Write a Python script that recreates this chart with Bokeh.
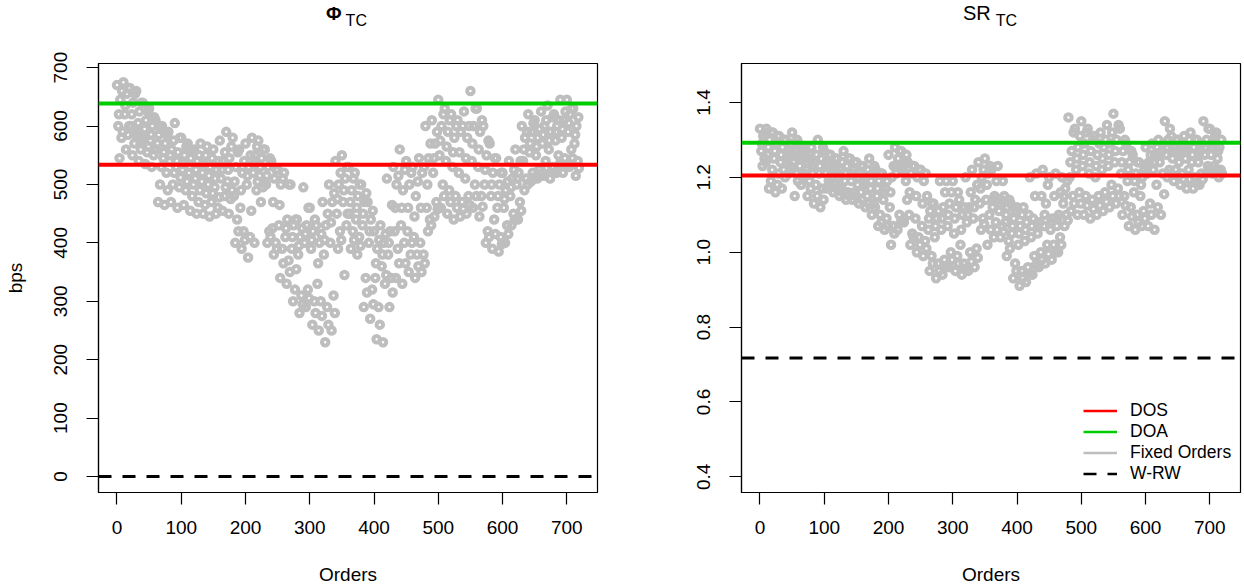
from bokeh.plotting import figure
from bokeh.layouts import row, column
from bokeh.models import Span, Legend, LegendItem, FixedTicker, Range1d, ColumnDataSource, Div
from bokeh.embed import file_html
from bokeh.resources import INLINE

# ---------------- data ----------------
orders = list(range(0, 720, 10))

phi_1 = [670, 675, 665, 660, 640, 630, 610, 600, 590, 605,
         580, 570, 560, 570, 565, 560, 575, 590, 580, 560,
         570, 580, 575, 560, 540, 525, 520, 500, 440, 495,
         460, 430, 470, 500, 540, 550, 530, 520, 500, 470,
         420, 430, 510, 530, 560, 540, 530, 545, 600, 610,
         645, 630, 620, 610, 625, 660, 630, 600, 570, 545,
         520, 540, 560, 600, 620, 610, 625, 635, 620, 645,
         645, 630]
phi_2 = [645, 655, 640, 625, 610, 600, 585, 570, 560, 555,
         550, 545, 540, 535, 530, 525, 540, 545, 530, 520,
         530, 550, 545, 530, 510, 500, 440, 430, 410, 430,
         420, 400, 430, 470, 500, 510, 490, 480, 470, 440,
         390, 400, 420, 500, 490, 500, 480, 520, 545, 570,
         600, 590, 580, 590, 580, 600, 590, 550, 520, 500,
         490, 510, 520, 580, 590, 580, 600, 590, 600, 610,
         620, 600]
phi_3 = [600, 620, 600, 590, 580, 575, 560, 545, 540, 530,
         525, 520, 510, 505, 500, 495, 510, 505, 480, 460,
         500, 520, 515, 500, 425, 430, 410, 390, 380, 400,
         390, 330, 380, 400, 450, 470, 450, 440, 430, 400,
         340, 360, 380, 420, 430, 420, 410, 400, 460, 520,
         550, 540, 530, 520, 510, 540, 530, 500, 480, 460,
         460, 480, 500, 540, 555, 550, 570, 560, 575, 580,
         590, 570]
phi_4 = [580, 585, 570, 560, 555, 550, 500, 520, 500, 495,
         490, 480, 470, 465, 470, 460, 480, 475, 440, 420,
         410, 490, 495, 420, 400, 390, 370, 320, 310, 320,
         300, 300, 290, 310, 420, 430, 420, 410, 340, 320,
         290, 330, 340, 390, 400, 380, 380, 380, 440, 470,
         500, 490, 480, 470, 480, 500, 480, 420, 440, 410,
         430, 450, 470, 510, 520, 525, 540, 530, 550, 545,
         560, 540]
phi_5 = [545, 560, 550, 540, 535, 530, 470, 465, 470, 460,
         465, 455, 450, 450, 445, 450, 455, 450, 400, 390,
         375, 400, 470, 400, 380, 340, 330, 300, 280, 290,
         260, 250, 230, 250, 390, 345, 390, 380, 290, 270,
         235, 230, 290, 340, 330, 350, 340, 350, 420, 445,
         460, 450, 440, 445, 450, 460, 445, 400, 390, 385,
         400, 430, 440, 490, 505, 510, 515, 510, 520, 520,
         530, 515]
phi_6 = [660, 665, 655, 640, 625, 615, 595, 585, 575, 580,
         565, 555, 550, 550, 545, 540, 555, 565, 555, 540,
         550, 565, 560, 545, 525, 510, 500, 440, 425, 460,
         440, 415, 450, 485, 520, 530, 510, 500, 485, 455,
         405, 415, 465, 515, 525, 520, 505, 530, 570, 590,
         620, 610, 600, 600, 600, 630, 610, 575, 545, 520,
         505, 525, 540, 590, 605, 595, 610, 615, 610, 625,
         630, 615]
phi_7 = [620, 635, 620, 605, 595, 585, 570, 555, 550, 540,
         535, 530, 525, 520, 515, 510, 525, 525, 505, 490,
         515, 535, 530, 515, 470, 465, 425, 410, 395, 415,
         405, 365, 405, 435, 475, 490, 470, 460, 450, 420,
         365, 380, 400, 460, 460, 460, 445, 460, 500, 545,
         575, 565, 555, 555, 545, 570, 560, 525, 500, 480,
         475, 495, 510, 560, 570, 565, 585, 575, 590, 595,
         605, 585]
phi_8 = [590, 600, 585, 575, 565, 560, 530, 490, 520, 512,
         505, 500, 490, 485, 485, 478, 495, 490, 420, 405,
         455, 505, 505, 410, 390, 365, 350, 355, 295, 305,
         280, 275, 260, 280, 405, 450, 405, 395, 315, 295,
         260, 345, 315, 365, 365, 400, 360, 365, 430, 458,
         480, 470, 460, 458, 465, 480, 462, 410, 415, 398,
         415, 440, 455, 500, 512, 518, 528, 520, 535, 532,
         545, 528]

sr_1 = [1.33, 1.33, 1.32, 1.31, 1.30, 1.32, 1.29, 1.27, 1.28, 1.30,
        1.27, 1.26, 1.25, 1.27, 1.25, 1.24, 1.23, 1.25, 1.22, 1.21,
        1.26, 1.28, 1.27, 1.24, 1.23, 1.22, 1.15, 1.13, 1.19, 1.19,
        1.19, 1.14, 1.20, 1.22, 1.24, 1.25, 1.22, 1.23, 1.15, 1.13,
        1.12, 1.12, 1.20, 1.21, 1.22, 1.20, 1.21, 1.20, 1.36, 1.33,
        1.35, 1.33, 1.31, 1.32, 1.34, 1.37, 1.33, 1.29, 1.26, 1.24,
        1.28, 1.29, 1.30, 1.35, 1.31, 1.30, 1.31, 1.32, 1.30, 1.35,
        1.33, 1.32]
sr_2 = [1.31, 1.30, 1.29, 1.28, 1.27, 1.27, 1.26, 1.25, 1.24, 1.25,
        1.24, 1.23, 1.22, 1.23, 1.22, 1.21, 1.20, 1.21, 1.19, 1.17,
        1.20, 1.25, 1.24, 1.21, 1.20, 1.19, 1.11, 1.09, 1.12, 1.13,
        1.12, 1.10, 1.12, 1.14, 1.20, 1.21, 1.15, 1.14, 1.12, 1.09,
        1.07, 1.08, 1.09, 1.08, 1.13, 1.09, 1.10, 1.17, 1.27, 1.28,
        1.29, 1.27, 1.26, 1.28, 1.29, 1.30, 1.27, 1.24, 1.21, 1.20,
        1.24, 1.26, 1.27, 1.30, 1.28, 1.27, 1.28, 1.28, 1.27, 1.30,
        1.29, 1.28]
sr_3 = [1.27, 1.26, 1.25, 1.24, 1.25, 1.24, 1.23, 1.22, 1.21, 1.21,
        1.21, 1.20, 1.20, 1.19, 1.19, 1.18, 1.18, 1.17, 1.15, 1.14,
        1.12, 1.21, 1.22, 1.10, 1.09, 1.07, 1.06, 1.04, 1.06, 1.07,
        1.05, 1.02, 1.08, 1.09, 1.13, 1.14, 1.12, 1.11, 1.08, 1.05,
        1.02, 1.03, 1.04, 1.05, 1.07, 1.06, 1.07, 1.13, 1.20, 1.22,
        1.23, 1.21, 1.20, 1.22, 1.23, 1.24, 1.21, 1.19, 1.16, 1.15,
        1.21, 1.22, 1.24, 1.26, 1.25, 1.24, 1.25, 1.24, 1.24, 1.26,
        1.26, 1.25]
sr_4 = [1.25, 1.19, 1.18, 1.22, 1.23, 1.21, 1.20, 1.19, 1.18, 1.17,
        1.19, 1.18, 1.17, 1.16, 1.16, 1.16, 1.15, 1.13, 1.10, 1.09,
        1.07, 1.10, 1.19, 1.05, 1.04, 1.03, 0.99, 0.97, 0.98, 1.00,
        0.99, 0.97, 1.00, 1.01, 1.09, 1.10, 1.08, 1.07, 1.03, 0.97,
        0.95, 0.96, 0.99, 1.00, 1.02, 1.02, 1.04, 1.10, 1.15, 1.16,
        1.15, 1.14, 1.15, 1.16, 1.18, 1.17, 1.15, 1.12, 1.10, 1.11,
        1.13, 1.18, 1.21, 1.22, 1.22, 1.21, 1.22, 1.20, 1.21, 1.23,
        1.23, 1.22]
sr_5 = [1.23, 1.17, 1.16, 1.17, 1.21, 1.15, 1.18, 1.15, 1.13, 1.12,
        1.17, 1.16, 1.15, 1.14, 1.14, 1.13, 1.12, 1.10, 1.07, 1.06,
        1.02, 1.06, 1.08, 1.02, 1.00, 0.99, 0.95, 0.93, 0.94, 0.96,
        0.95, 0.94, 0.95, 0.96, 1.06, 1.02, 1.04, 1.04, 0.99, 0.93,
        0.91, 0.92, 0.94, 0.96, 0.97, 0.98, 1.00, 1.07, 1.11, 1.10,
        1.10, 1.09, 1.10, 1.11, 1.12, 1.13, 1.10, 1.07, 1.06, 1.07,
        1.07, 1.06, 1.10, 1.20, 1.19, 1.18, 1.17, 1.17, 1.18, 1.21,
        1.21, 1.20]
sr_6 = [1.32, 1.32, 1.31, 1.30, 1.29, 1.30, 1.28, 1.26, 1.26, 1.28,
        1.26, 1.25, 1.24, 1.25, 1.24, 1.23, 1.22, 1.23, 1.21, 1.19,
        1.23, 1.27, 1.26, 1.23, 1.22, 1.21, 1.13, 1.11, 1.16, 1.16,
        1.16, 1.12, 1.16, 1.18, 1.22, 1.23, 1.19, 1.19, 1.14, 1.11,
        1.10, 1.10, 1.15, 1.15, 1.18, 1.15, 1.16, 1.19, 1.32, 1.31,
        1.32, 1.30, 1.29, 1.30, 1.32, 1.34, 1.30, 1.27, 1.24, 1.22,
        1.26, 1.28, 1.29, 1.33, 1.30, 1.29, 1.30, 1.30, 1.29, 1.33,
        1.31, 1.30]
sr_7 = [1.29, 1.28, 1.27, 1.26, 1.26, 1.26, 1.25, 1.24, 1.23, 1.23,
        1.23, 1.22, 1.21, 1.21, 1.21, 1.20, 1.19, 1.19, 1.17, 1.16,
        1.16, 1.23, 1.23, 1.16, 1.15, 1.13, 1.09, 1.07, 1.09, 1.10,
        1.09, 1.06, 1.10, 1.12, 1.17, 1.18, 1.14, 1.13, 1.10, 1.07,
        1.05, 1.06, 1.07, 1.07, 1.10, 1.08, 1.09, 1.15, 1.24, 1.25,
        1.26, 1.24, 1.23, 1.25, 1.26, 1.27, 1.24, 1.22, 1.19, 1.18,
        1.23, 1.24, 1.26, 1.28, 1.27, 1.26, 1.27, 1.26, 1.26, 1.28,
        1.28, 1.27]
sr_8 = [1.24, 1.22, 1.21, 1.20, 1.22, 1.19, 1.21, 1.17, 1.15, 1.14,
        1.18, 1.17, 1.16, 1.15, 1.15, 1.14, 1.13, 1.12, 1.08, 1.07,
        1.05, 1.08, 1.14, 1.04, 1.02, 1.01, 0.97, 0.95, 0.96, 0.98,
        0.97, 0.955, 0.975, 0.985, 1.075, 1.06, 1.06, 1.055, 1.01, 0.95,
        0.93, 0.94, 0.965, 0.98, 0.995, 1.00, 1.02, 1.085, 1.13, 1.13,
        1.125, 1.115, 1.125, 1.135, 1.15, 1.15, 1.125, 1.095, 1.08, 1.09,
        1.10, 1.12, 1.155, 1.21, 1.205, 1.195, 1.195, 1.185, 1.195, 1.22,
        1.22, 1.21]

phi_dos, phi_doa, phi_wrw = 533.5, 638.5, 0.0
sr_dos, sr_doa, sr_wrw = 1.205, 1.292, 0.717

x_ticks = [0, 100, 200, 300, 400, 500, 600, 700]
phi_ticks = [0, 100, 200, 300, 400, 500, 600, 700]
sr_ticks = [0.4, 0.6, 0.8, 1.0, 1.2, 1.4]
sr_tick_labels = ["0.4", "0.6", "0.8", "1.0", "1.2", "1.4"]
legend_labels = ["DOS", "DOA", "Fixed Orders", "W-RW"]
x_label = "Orders"
phi_y_label = "bps"
phi_title = ("\u03a6", "TC")
sr_title = ("SR", "TC")

# ---------------- styling / layout ----------------
FONT = "Liberation Sans"
GRAY = "#BEBEBE"
RED = "#FF0000"
GREEN = "#00CD00"
X_RANGE = (-28.76, 747.76)
PHI_RANGE = (-27.3, 707.0)
SR_RANGE = (0.358, 1.504)
FW, FH = 499, 429
DIV_H = 34
TOP, BOTTOM = 63 - DIV_H, 96
L1, R1 = 98, 30
L2, R2 = 114, 3
W1 = L1 + FW + R1
W2 = L2 + FW + R2
OFFSETS = [0, 5, 2, 7, 4, 8, 3, 9]


def make_fig(yr, left, right, yticks):
    p = figure(frame_width=FW, frame_height=FH,
               x_range=Range1d(*X_RANGE), y_range=Range1d(*yr),
               output_backend="svg", toolbar_location=None,
               min_border_left=left, min_border_right=right,
               min_border_top=TOP, min_border_bottom=BOTTOM)
    p.grid.visible = False
    p.outline_line_color = "black"
    p.outline_line_width = 1.2
    p.background_fill_color = "white"
    p.border_fill_color = "white"
    p.xaxis.ticker = FixedTicker(ticks=x_ticks)
    p.yaxis.ticker = FixedTicker(ticks=yticks)
    for ax in (p.xaxis[0], p.yaxis[0]):
        ax.major_tick_out = 12
        ax.major_tick_in = 0
        ax.minor_tick_out = 0
        ax.minor_tick_in = 0
        ax.axis_line_color = "black"
        ax.axis_line_width = 1.2
        ax.major_tick_line_color = "black"
        ax.major_tick_line_width = 1.2
        ax.major_label_text_font = FONT
        ax.major_label_text_font_size = "19px"
        ax.major_label_text_color = "black"
        ax.axis_label_text_font = FONT
        ax.axis_label_text_font_size = "19px"
        ax.axis_label_text_font_style = "normal"
        ax.axis_label_text_color = "black"
    p.xaxis.major_label_standoff = 16
    p.yaxis.major_label_standoff = 19
    p.yaxis.major_label_orientation = "vertical"
    p.xaxis.axis_label = x_label
    p.xaxis.axis_label_standoff = 27
    return p


def add_points(p, series):
    xs, ys = [], []
    for k, s in enumerate(series):
        xs += [o + OFFSETS[k] for o in orders]
        ys += s
    src = ColumnDataSource(dict(x=xs, y=ys))
    p.scatter("x", "y", source=src, marker="circle", size=6.5,
              fill_color=None, line_color=GRAY, line_width=4)


def add_lines(p, dos, doa, wrw):
    p.add_layout(Span(location=dos, dimension="width", line_color=RED, line_width=4))
    p.add_layout(Span(location=doa, dimension="width", line_color=GREEN, line_width=4))
    p.add_layout(Span(location=wrw, dimension="width", line_color="black",
                      line_width=3, line_dash="13 11"))


def title_div(main, sub, width, pad_left, gap, bold, main_size, sub_size):
    weight = "bold" if bold else "normal"
    html = (f'<div style="font-family:\'{FONT}\';font-size:19px;line-height:19px;'
            f'white-space:nowrap;padding-top:4px;padding-left:{pad_left}px;color:black">'
            f'<span style="font-weight:{weight};font-size:{main_size}px">{main}</span>'
            f'<span style="font-size:{sub_size}px;position:relative;top:6px;'
            f'margin-left:{gap}px">{sub}</span></div>')
    return Div(text=html, width=width, height=DIV_H, margin=0)


# ---------------- left panel ----------------
p1 = make_fig(PHI_RANGE, L1, R1, phi_ticks)
p1.yaxis.axis_label = phi_y_label
p1.yaxis.axis_label_standoff = 26
add_points(p1, [phi_1, phi_2, phi_3, phi_4, phi_5, phi_6, phi_7, phi_8])
add_lines(p1, phi_dos, phi_doa, phi_wrw)
d1 = title_div(phi_title[0], phi_title[1], W1, 326, 4, True, 19, 16)

# ---------------- right panel ----------------
p2 = make_fig(SR_RANGE, L2, R2, sr_ticks)
p2.yaxis.major_label_overrides = {t: l for t, l in zip(sr_ticks, sr_tick_labels)}
add_points(p2, [sr_1, sr_2, sr_3, sr_4, sr_5, sr_6, sr_7, sr_8])
add_lines(p2, sr_dos, sr_doa, sr_wrw)
d2 = title_div(sr_title[0], sr_title[1], W2, 963 - W1, 5, False, 20, 16)

nan = float("nan")
r_dos = p2.line(x=[nan], y=[nan], line_color=RED, line_width=2.5)
r_doa = p2.line(x=[nan], y=[nan], line_color=GREEN, line_width=2.5)
r_fix = p2.line(x=[nan], y=[nan], line_color=GRAY, line_width=2.5)
r_wrw = p2.line(x=[nan], y=[nan], line_color="black", line_width=2.5, line_dash="13 11")
legend = Legend(items=[LegendItem(label=lab, renderers=[r])
                       for lab, r in zip(legend_labels, [r_dos, r_doa, r_fix, r_wrw])],
                location=(342, 8), glyph_width=34, glyph_height=19,
                label_height=19, label_standoff=13, spacing=0, padding=10, margin=0,
                border_line_color=None, background_fill_alpha=0,
                label_text_font=FONT, label_text_font_size="17.5px",
                label_text_color="black")
p2.add_layout(legend)

layout = row(column(d1, p1), column(d2, p2))
open("out.html", "w").write(file_html(layout, INLINE))
